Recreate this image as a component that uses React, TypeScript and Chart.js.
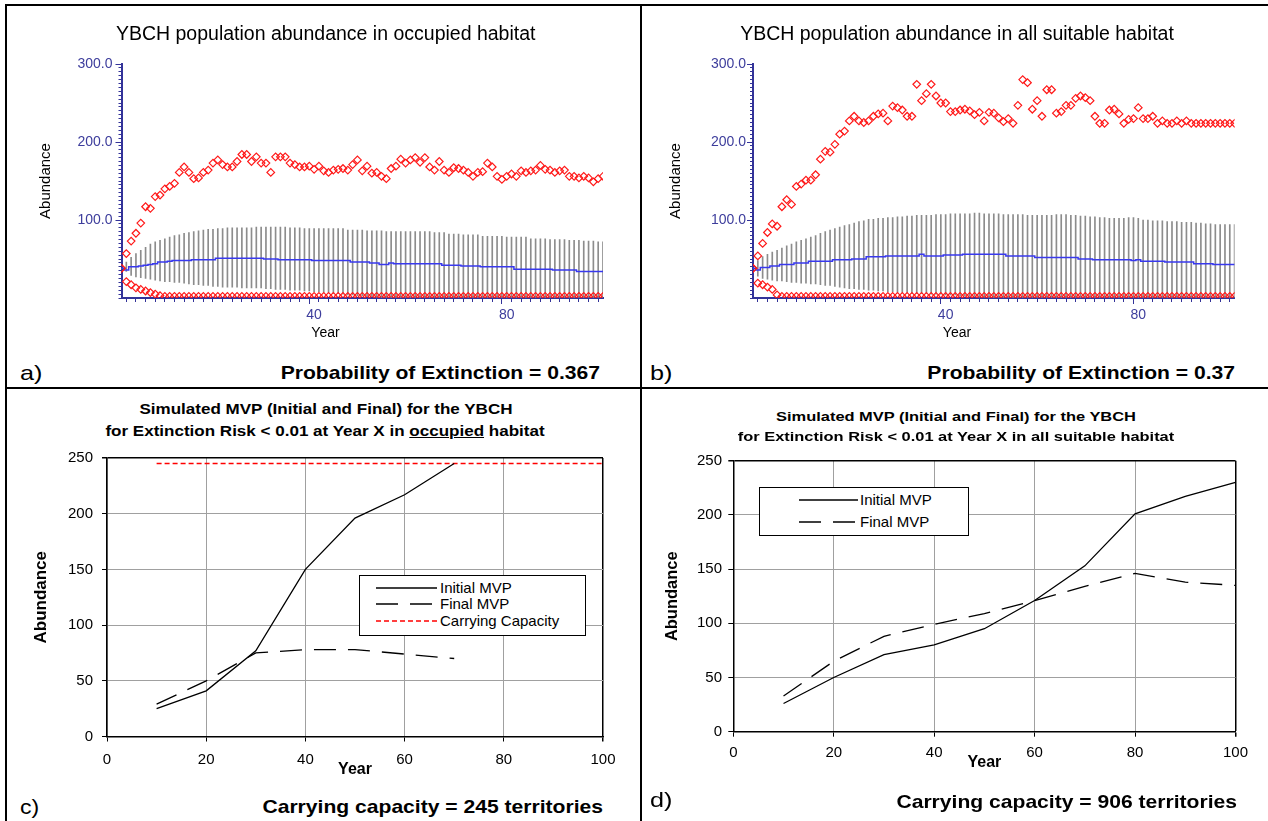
import React, { useEffect, useRef } from "react";
import { Chart, registerables } from "chart.js";

Chart.register(...registerables);

const FONT = "'Liberation Sans', Arial, Helvetica, sans-serif";
Chart.defaults.font.family = FONT;

// ---------- Panels a) and b): simulated abundance, years 0..100 ----------
const years = Array.from({ length: 101 }, (_, i) => i);
const abundanceLabelTicks = [100, 200, 300];
const yearLabelTicks = [40, 80];

// a) occupied habitat
const upperOccupied = [
  38, 57, 73, 83, 96, 117, 115, 130, 132, 140,
  143, 147, 161, 168, 161, 153, 154, 161, 164, 173,
  177, 171, 168, 168, 175, 184, 184, 175, 181, 173,
  173, 161, 181, 181, 181, 173, 171, 168, 168, 169,
  165, 169, 163, 161, 164, 165, 166, 164, 171, 177,
  163, 169, 160, 161, 156, 153, 166, 169, 178, 173,
  177, 180, 174, 180, 168, 164, 175, 164, 161, 167,
  166, 164, 161, 156, 161, 162, 173, 168, 156, 152,
  156, 159, 156, 163, 161, 163, 164, 170, 165, 164,
  161, 163, 164, 156, 156, 154, 156, 154, 149, 153,
  156,
];
const lowerOccupied = [
  38, 21, 17, 13, 11, 9, 7, 5, 3, 2,
  2, 2, 2, 2, 2, 2, 2, 2, 2, 2,
  2, 2, 2, 2, 2, 2, 2, 2, 2, 2,
  2, 2, 2, 2, 2, 2, 2, 2, 2, 2,
  2, 2, 2, 2, 2, 2, 2, 2, 2, 2,
  2, 2, 2, 2, 2, 2, 2, 2, 2, 2,
  2, 2, 2, 2, 2, 2, 2, 2, 2, 2,
  2, 2, 2, 2, 2, 2, 2, 2, 2, 2,
  2, 2, 2, 2, 2, 2, 2, 2, 2, 2,
  2, 2, 2, 2, 2, 2, 2, 2, 2, 2,
  2,
];
const meanOccupied = [
  38, 36, 40, 40, 41, 42, 43, 44, 46, 46,
  47, 48, 48, 48, 48, 49, 49, 49, 49, 49,
  51, 51, 51, 51, 51, 51, 51, 51, 51, 51,
  50, 50, 50, 49, 49, 49, 49, 49, 49, 49,
  48, 48, 48, 48, 48, 48, 48, 48, 46, 46,
  46, 46, 45, 45, 43, 43, 45, 44, 44, 44,
  44, 44, 44, 44, 44, 44, 44, 42, 42, 42,
  42, 41, 41, 41, 41, 40, 40, 40, 40, 40,
  40, 40, 37, 37, 37, 37, 37, 37, 37, 37,
  36, 36, 36, 36, 36, 34, 34, 34, 34, 34,
  34,
];
const sdHighOccupied = [
  38, 46, 52, 57, 61, 65, 69, 72, 74, 76,
  78, 80, 81, 83, 84, 85, 86, 87, 88, 88,
  89, 89, 90, 90, 90, 90, 90, 90, 91, 91,
  91, 91, 91, 91, 91, 90, 90, 90, 89, 89,
  89, 89, 89, 89, 89, 89, 89, 87, 87, 87,
  87, 86, 86, 86, 86, 85, 85, 85, 85, 85,
  85, 85, 85, 85, 85, 84, 84, 84, 82, 82,
  82, 81, 81, 81, 81, 79, 79, 79, 79, 79,
  78, 78, 78, 78, 78, 76, 76, 76, 76, 75,
  75, 75, 75, 74, 74, 74, 73, 73, 73, 72,
  72,
];
const sdLowOccupied = [
  38, 34, 29, 27, 26, 25, 24, 23, 22, 21,
  21, 20, 20, 19, 18, 17, 17, 16, 16, 15,
  15, 14, 14, 14, 14, 13, 13, 13, 13, 13,
  12, 12, 11, 11, 11, 10, 10, 10, 9, 9,
  8, 8, 7, 7, 6, 6, 5, 4, 4, 3,
  3, 2, 2, 1, 0, 0, 0, 0, 0, 0,
  0, 0, 0, 0, 0, 0, 0, 0, 0, 0,
  0, 0, 0, 0, 0, 0, 0, 0, 0, 0,
  0, 0, 0, 0, 0, 0, 0, 0, 0, 0,
  0, 0, 0, 0, 0, 0, 0, 0, 0, 0,
  0,
];

// b) all suitable habitat
const upperSuitable = [
  38, 54, 70, 84, 95, 92, 117, 126, 120, 143,
  146, 151, 151, 158, 178, 188, 187, 197, 210, 214,
  227, 233, 227, 225, 227, 233, 236, 237, 227, 246,
  244, 241, 233, 233, 274, 253, 262, 274, 259, 250,
  250, 239, 239, 241, 242, 240, 235, 238, 227, 238,
  237, 231, 226, 230, 224, 247, 280, 276, 242, 253,
  233, 267, 267, 237, 239, 247, 247, 256, 259, 257,
  253, 233, 224, 224, 241, 242, 236, 224, 229, 230,
  244, 230, 230, 233, 224, 227, 224, 224, 227, 224,
  227, 224, 224, 224, 224, 224, 224, 224, 224, 224,
  224,
];
const lowerSuitable = [
  38, 19, 17, 14, 11, 4, 2, 2, 2, 2,
  2, 2, 2, 2, 2, 2, 2, 2, 2, 2,
  2, 2, 2, 2, 2, 2, 2, 2, 2, 2,
  2, 2, 2, 2, 2, 2, 2, 2, 2, 2,
  2, 2, 2, 2, 2, 2, 2, 2, 2, 2,
  2, 2, 2, 2, 2, 2, 2, 2, 2, 2,
  2, 2, 2, 2, 2, 2, 2, 2, 2, 2,
  2, 2, 2, 2, 2, 2, 2, 2, 2, 2,
  2, 2, 2, 2, 2, 2, 2, 2, 2, 2,
  2, 2, 2, 2, 2, 2, 2, 2, 2, 2,
  2,
];
const meanSuitable = [
  38, 36, 39, 39, 41, 41, 43, 43, 43, 45,
  45, 45, 47, 47, 47, 47, 47, 49, 49, 49,
  49, 50, 50, 50, 53, 53, 53, 53, 54, 54,
  54, 54, 54, 54, 54, 56, 54, 54, 54, 54,
  55, 55, 55, 55, 56, 56, 56, 56, 56, 56,
  56, 56, 56, 54, 54, 54, 54, 54, 54, 52,
  52, 52, 52, 52, 52, 52, 52, 52, 50, 50,
  50, 49, 49, 49, 49, 49, 49, 49, 49, 48,
  49, 47, 47, 47, 47, 47, 46, 46, 46, 46,
  46, 46, 44, 44, 44, 44, 43, 43, 43, 43,
  43,
];
const sdHighSuitable = [
  38, 48, 53, 56, 59, 61, 64, 67, 69, 72,
  74, 76, 78, 80, 83, 85, 87, 89, 91, 93,
  94, 96, 98, 99, 101, 101, 102, 102, 103, 103,
  104, 104, 105, 105, 106, 106, 106, 106, 107, 107,
  107, 108, 108, 108, 108, 108, 109, 109, 108, 108,
  108, 108, 107, 107, 107, 107, 107, 106, 106, 106,
  106, 106, 106, 107, 107, 107, 106, 106, 105, 105,
  104, 104, 103, 103, 102, 102, 102, 102, 103, 103,
  102, 100, 100, 99, 99, 99, 98, 98, 98, 97,
  97, 97, 96, 96, 95, 95, 94, 94, 94, 94,
  94,
];
const sdLowSuitable = [
  38, 28, 25, 24, 23, 22, 22, 21, 20, 20,
  19, 19, 18, 18, 17, 16, 16, 15, 14, 13,
  12, 12, 11, 11, 10, 10, 9, 9, 8, 8,
  7, 7, 7, 6, 6, 6, 6, 5, 5, 5,
  4, 4, 4, 3, 3, 2, 2, 1, 1, 0,
  0, 0, 0, 0, 0, 0, 0, 0, 0, 0,
  0, 0, 0, 0, 0, 0, 0, 0, 0, 0,
  0, 0, 0, 0, 0, 0, 0, 0, 0, 0,
  0, 0, 0, 0, 0, 0, 0, 0, 0, 0,
  0, 0, 0, 0, 0, 0, 0, 0, 0, 0,
  0,
];

// ---------- Panels c) and d): simulated MVP ----------
const mvpYearsOccupied = [10, 20, 30, 40, 50, 60, 70];
const initialMvpOccupied = [25, 41, 77, 150, 196, 217, 245];
const finalMvpOccupied = [29, 50, 75, 78, 78, 74, 70];
const capacityYearsOccupied = [10, 100];
const capacityOccupied = [245, 245];

const mvpYearsSuitable = [10, 20, 30, 40, 50, 60, 70, 80, 90, 100];
const initialMvpSuitable = [26, 50, 71, 80, 95, 121, 153, 201, 217, 230];
const finalMvpSuitable = [33, 65, 88, 99, 109, 121, 134, 146, 138, 135];

const initialStyle = { label: "Initial MVP", color: "#000000", dash: [] as number[], width: 1.3 };
const finalStyle = { label: "Final MVP", color: "#000000", dash: [22, 12], width: 1.3 };
const capacityStyle = { label: "Carrying Capacity", color: "#ff0000", dash: [5, 3], width: 1.6 };

const AXIS_BLUE = "#333399";
const LABEL_BLUE = "#3d3d9c";

const tickVal = (ctx: any) => (ctx && ctx.tick ? ctx.tick.value : undefined);

function abundanceConfig(o: any) {
  const pts = (arr: number[]) => years.map((x, i) => ({ x, y: arr[i] }));
  const marker = {
    type: "line",
    showLine: false,
    pointStyle: "rectRot",
    pointRadius: 3.8,
    pointHoverRadius: 3.8,
    pointBorderWidth: 1.2,
    pointBorderColor: "#ff1a1a",
    pointBackgroundColor: "rgba(255,255,255,0)",
    borderColor: "#ff1a1a",
    order: 0,
  };
  return {
    type: "line",
    data: {
      datasets: [
        { ...marker, label: "Maximum", data: pts(o.upper) },
        { ...marker, label: "Minimum", data: pts(o.lower) },
        {
          type: "line",
          label: "Mean",
          data: pts(o.mean),
          borderColor: "#3838ee",
          borderWidth: 1.5,
          pointRadius: 0,
          stepped: "middle",
          order: 1,
        },
        {
          type: "bar",
          label: "±1 SD",
          data: years.map((x, i) => ({ x, y: [o.lo[i], o.hi[i]] })),
          backgroundColor: "#8c8c8c",
          barThickness: 1,
          order: 2,
        },
      ],
    },
    options: {
      animation: false,
      responsive: false,
      devicePixelRatio: 1,
      events: [],
      layout: { padding: { top: 64, right: o.padRight, bottom: 0, left: 0 } },
      plugins: { legend: { display: false }, tooltip: { enabled: false }, title: { display: false } },
      scales: {
        x: {
          type: "linear",
          min: 0,
          max: 100,
          offset: false,
          afterFit: (s: any) => {
            s.height = 47;
          },
          border: { display: true, color: AXIS_BLUE, width: 2 },
          grid: {
            drawOnChartArea: false,
            drawTicks: true,
            tickLength: 6,
            tickColor: AXIS_BLUE,
            tickWidth: 1,
            tickBorderDash: (ctx: any) => {
              const v = tickVal(ctx);
              return v === undefined || yearLabelTicks.includes(v) ? [] : [3, 20];
            },
          },
          ticks: {
            stepSize: 2,
            autoSkip: false,
            maxRotation: 0,
            padding: 3,
            color: LABEL_BLUE,
            font: { size: 14, family: FONT },
            callback: (v: number) => (yearLabelTicks.includes(v) ? String(v) : ""),
          },
        },
        y: {
          type: "linear",
          min: 0,
          max: 300,
          afterFit: (s: any) => {
            s.width = o.yAxisWidth;
          },
          border: { display: true, color: AXIS_BLUE, width: 2 },
          grid: {
            drawOnChartArea: false,
            drawTicks: true,
            tickLength: 6,
            tickColor: AXIS_BLUE,
            tickWidth: 1,
            tickBorderDash: (ctx: any) => {
              const v = tickVal(ctx);
              return v === undefined || abundanceLabelTicks.includes(v) ? [] : [0, 3, 10, 0];
            },
          },
          ticks: {
            stepSize: 5,
            autoSkip: false,
            padding: o.labelPad,
            color: LABEL_BLUE,
            font: { size: 14, family: FONT },
            callback: (v: number) => (abundanceLabelTicks.includes(v) ? v.toFixed(1) : ""),
          },
          title: {
            display: true,
            text: "Abundance",
            color: "#000",
            font: { size: 15, family: FONT },
            padding: { top: o.titlePad, bottom: 0 },
          },
        },
      },
    },
  };
}

function mvpConfig(o: any) {
  const line = (style: any, xs: number[], ys: number[]) => ({
    type: "line",
    label: style.label,
    data: xs.map((x, i) => ({ x, y: ys[i] })),
    borderColor: style.color,
    borderWidth: style.width,
    borderDash: style.dash,
    pointRadius: 0,
    tension: 0,
    fill: false,
  });
  const datasets: any[] = [
    line(initialStyle, o.xs, o.initial),
    line(finalStyle, o.xs, o.final),
  ];
  if (o.capXs) datasets.push(line(capacityStyle, o.capXs, o.cap));
  const gridColor = (max: number) => (ctx: any) => (tickVal(ctx) === max ? "#000" : "#a0a0a0");
  const gridWidth = (max: number) => (ctx: any) => (tickVal(ctx) === max ? 1.5 : 1);
  return {
    type: "line",
    data: { datasets },
    options: {
      animation: false,
      responsive: false,
      devicePixelRatio: 1,
      events: [],
      layout: { padding: { top: o.padTop, right: o.padRight, bottom: 0, left: 0 } },
      plugins: { legend: { display: false }, tooltip: { enabled: false }, title: { display: false } },
      scales: {
        x: {
          type: "linear",
          min: 0,
          max: 100,
          afterFit: (s: any) => {
            s.height = o.xHeight;
          },
          border: { display: true, color: "#000", width: 1.5 },
          grid: {
            color: gridColor(100),
            lineWidth: gridWidth(100),
            tickColor: "#000",
            tickLength: 5,
          },
          ticks: {
            stepSize: 20,
            maxRotation: 0,
            padding: o.xTickPad,
            color: "#000",
            font: { size: 15, family: FONT },
          },
          title: {
            display: true,
            text: "Year",
            color: "#000",
            font: { size: 16, weight: "bold", family: FONT },
            padding: { top: 0, bottom: o.xTitlePad },
          },
        },
        y: {
          type: "linear",
          min: 0,
          max: 250,
          afterFit: (s: any) => {
            s.width = o.yWidth;
          },
          border: { display: true, color: "#000", width: 1.5 },
          grid: {
            color: gridColor(250),
            lineWidth: gridWidth(250),
            tickColor: "#000",
            tickLength: 5,
          },
          ticks: {
            stepSize: 50,
            padding: o.yTickPad,
            color: "#000",
            font: { size: 15, family: FONT },
          },
          title: {
            display: true,
            text: "Abundance",
            color: "#000",
            font: { size: o.yTitleSize, weight: "bold", family: FONT },
            padding: { top: o.yTitlePad, bottom: 0 },
          },
        },
      },
    },
  };
}

function Label(props: any) {
  const { x, y, size, bold, anchor = "center", sx = 1, children } = props;
  const lh = Math.round(size * 1.2);
  const W = 1400;
  let left = x;
  let textAlign: any = "left";
  let origin = "left center";
  if (anchor === "center") {
    left = x - W / 2;
    textAlign = "center";
    origin = "center center";
  } else if (anchor === "right") {
    left = x - W;
    textAlign = "right";
    origin = "right center";
  }
  return (
    <div
      style={{
        position: "absolute",
        left,
        top: y - lh / 2,
        width: W,
        height: lh,
        lineHeight: lh + "px",
        fontSize: size,
        fontWeight: bold ? "bold" : "normal",
        fontFamily: FONT,
        textAlign,
        whiteSpace: "nowrap",
        transform: `scaleX(${sx})`,
        transformOrigin: origin,
        color: "#000",
        pointerEvents: "none",
      }}
    >
      {children}
    </div>
  );
}

function LegendBox(props: any) {
  const { left, top, width, height, rows, sampleX, sampleW, textX, items, fontSize } = props;
  return (
    <div
      style={{
        position: "absolute",
        left,
        top,
        width,
        height,
        boxSizing: "border-box",
        border: "1.5px solid #000",
        background: "#fff",
      }}
    >
      {items.map((it: any, i: number) => (
        <React.Fragment key={it.label}>
          <svg
            width={sampleW}
            height={6}
            style={{ position: "absolute", left: sampleX, top: rows[i] - 3 }}
          >
            <line
              x1={0}
              y1={3}
              x2={sampleW}
              y2={3}
              stroke={it.color}
              strokeWidth={it.width}
              strokeDasharray={it.dash.length ? it.dash.join(" ") : undefined}
            />
          </svg>
          <div
            style={{
              position: "absolute",
              left: textX,
              top: rows[i] - 9,
              height: 18,
              lineHeight: "18px",
              fontSize,
              fontFamily: FONT,
              whiteSpace: "nowrap",
              color: "#000",
            }}
          >
            {it.label}
          </div>
        </React.Fragment>
      ))}
    </div>
  );
}

export default function App() {
  const refA = useRef<HTMLCanvasElement>(null);
  const refB = useRef<HTMLCanvasElement>(null);
  const refC = useRef<HTMLCanvasElement>(null);
  const refD = useRef<HTMLCanvasElement>(null);

  useEffect(() => {
    const charts = [
      new Chart(
        refA.current as any,
        abundanceConfig({
          upper: upperOccupied,
          lower: lowerOccupied,
          mean: meanOccupied,
          hi: sdHighOccupied,
          lo: sdLowOccupied,
          yAxisWidth: 121.5,
          padRight: 37,
          titlePad: 37,
          labelPad: 3,
        }) as any
      ),
      new Chart(
        refB.current as any,
        abundanceConfig({
          upper: upperSuitable,
          lower: lowerSuitable,
          mean: meanSuitable,
          hi: sdHighSuitable,
          lo: sdLowSuitable,
          yAxisWidth: 113,
          padRight: 33.4,
          titlePad: 27,
          labelPad: 1,
        }) as any
      ),
      new Chart(
        refC.current as any,
        mvpConfig({
          xs: mvpYearsOccupied,
          initial: initialMvpOccupied,
          final: finalMvpOccupied,
          capXs: capacityYearsOccupied,
          cap: capacityOccupied,
          padTop: 14.5,
          padRight: 37,
          yWidth: 107,
          xHeight: 53.5,
          xTickPad: 9.5,
          yTickPad: 9,
          xTitlePad: 11,
          yTitlePad: 31,
          yTitleSize: 17,
        }) as any
      ),
      new Chart(
        refD.current as any,
        mvpConfig({
          xs: mvpYearsSuitable,
          initial: initialMvpSuitable,
          final: finalMvpSuitable,
          padTop: 20.7,
          padRight: 32.5,
          yWidth: 93.3,
          xHeight: 58.3,
          xTickPad: 7.3,
          yTickPad: 6.3,
          xTitlePad: 17.4,
          yTitlePad: 22.6,
          yTitleSize: 16.5,
        }) as any
      ),
    ];
    return () => charts.forEach((c) => c.destroy());
  }, []);

  const line = (l: number, t: number, w: number, h: number) => (
    <div style={{ position: "absolute", left: l, top: t, width: w, height: h, background: "#000" }} />
  );

  return (
    <div
      style={{
        position: "absolute",
        left: 0,
        top: 0,
        width: 1268,
        height: 821,
        background: "#fff",
        overflow: "hidden",
      }}
    >
      <canvas ref={refA} width={640} height={345} style={{ position: "absolute", left: 0, top: 0 }} />
      <canvas ref={refB} width={628} height={345} style={{ position: "absolute", left: 640, top: 0 }} />
      <canvas ref={refC} width={640} height={350} style={{ position: "absolute", left: 0, top: 440 }} />
      <canvas ref={refD} width={628} height={350} style={{ position: "absolute", left: 640, top: 440 }} />

      {/* Panel a */}
      <Label x={325.7} y={33} size={19.5}>YBCH population abundance in occupied habitat</Label>
      <Label x={325.5} y={332} size={14}>Year</Label>
      <Label x={19.6} y={372} size={21} anchor="left" sx={1.2}>a)</Label>
      <Label x={600} y={372} size={19} bold anchor="right" sx={1.11}>Probability of Extinction = 0.367</Label>

      {/* Panel b */}
      <Label x={957} y={33} size={19.5}>YBCH population abundance in all suitable habitat</Label>
      <Label x={957} y={332} size={14}>Year</Label>
      <Label x={650} y={372} size={21} anchor="left" sx={1.2}>b)</Label>
      <Label x={1234.7} y={372} size={19} bold anchor="right" sx={1.11}>Probability of Extinction = 0.37</Label>

      {/* Panel c */}
      <Label x={326} y={409} size={14.2} bold sx={1.2}>Simulated MVP (Initial and Final) for the YBCH</Label>
      <Label x={325} y={431} size={14.2} bold sx={1.2}>
        for Extinction Risk &lt; 0.01 at Year X in <u>occupied</u> habitat
      </Label>
      <LegendBox
        left={359}
        top={575}
        width={227}
        height={61}
        rows={[12, 28, 45]}
        sampleX={16}
        sampleW={61}
        textX={80}
        fontSize={15}
        items={[initialStyle, finalStyle, capacityStyle]}
      />
      <Label x={20.4} y={807} size={20} anchor="left" sx={1.15}>c)</Label>
      <Label x={603} y={806} size={19} bold anchor="right" sx={1.11}>Carrying capacity = 245 territories</Label>

      {/* Panel d */}
      <Label x={956} y={417} size={13.7} bold sx={1.2}>Simulated MVP (Initial and Final) for the YBCH</Label>
      <Label x={955.5} y={437} size={13.7} bold sx={1.2}>
        for Extinction Risk &lt; 0.01 at Year X in all suitable habitat
      </Label>
      <LegendBox
        left={759}
        top={487}
        width={210}
        height={49}
        rows={[12, 33.5]}
        sampleX={39}
        sampleW={59}
        textX={100}
        fontSize={15}
        items={[initialStyle, finalStyle]}
      />
      <Label x={650} y={799} size={21} anchor="left" sx={1.2}>d)</Label>
      <Label x={1236.7} y={801} size={19} bold anchor="right" sx={1.11}>Carrying capacity = 906 territories</Label>

      {/* panel frame lines */}
      {line(5, 4, 1263, 2)}
      {line(5, 4, 2, 817)}
      {line(640, 4, 2, 817)}
      {line(5, 387, 1263, 2)}
    </div>
  );
}
